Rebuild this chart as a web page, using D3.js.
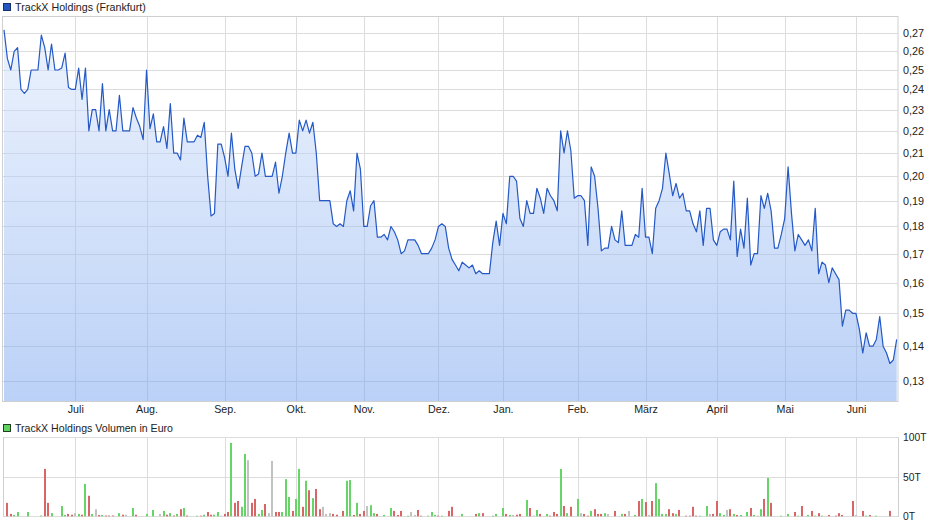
<!DOCTYPE html>
<html><head><meta charset="utf-8">
<script src="https://cdn.jsdelivr.net/npm/d3@7"></script>
<style>body{margin:0;background:#fff;} svg{display:block;font-family:"Liberation Sans",Arial,sans-serif;}</style>
</head><body>
<svg id="c" width="940" height="526"></svg>
<script>
// ---- data ----
const titlePrice = "TrackX Holdings (Frankfurt)";
const titleVolume = "TrackX Holdings Volumen in Euro";
const prices = [
 0.272,0.256,0.25,0.26,0.262,0.24,0.238,0.24,0.25,0.25,
 0.25,0.269,0.262,0.25,0.264,0.25,0.25,0.251,0.259,0.241,
 0.24,0.24,0.251,0.235,0.251,0.22,0.23,0.23,0.22,0.243,
 0.22,0.23,0.22,0.22,0.237,0.22,0.22,0.22,0.231,0.226,
 0.222,0.216,0.25,0.221,0.228,0.215,0.215,0.222,0.212,0.233,
 0.21,0.21,0.207,0.226,0.215,0.215,0.215,0.218,0.217,0.224,
 0.2,0.184,0.185,0.214,0.214,0.208,0.2,0.219,0.203,0.195,
 0.204,0.213,0.213,0.21,0.2,0.201,0.21,0.2,0.2,0.2,
 0.206,0.193,0.2,0.21,0.219,0.21,0.21,0.225,0.22,0.225,
 0.219,0.224,0.21,0.19,0.19,0.19,0.19,0.181,0.18,0.181,
 0.18,0.19,0.194,0.186,0.21,0.203,0.18,0.18,0.188,0.19,
 0.176,0.176,0.177,0.175,0.18,0.178,0.175,0.17,0.171,0.175,
 0.175,0.175,0.173,0.17,0.17,0.17,0.172,0.175,0.18,0.181,
 0.18,0.172,0.168,0.166,0.164,0.167,0.166,0.165,0.166,0.163,
 0.164,0.163,0.163,0.163,0.174,0.182,0.173,0.185,0.181,0.2,
 0.2,0.198,0.183,0.18,0.19,0.185,0.185,0.195,0.191,0.185,
 0.195,0.192,0.19,0.186,0.22,0.21,0.22,0.211,0.191,0.192,
 0.192,0.19,0.173,0.204,0.2,0.187,0.171,0.172,0.172,0.18,
 0.175,0.174,0.186,0.173,0.173,0.173,0.177,0.176,0.195,0.176,
 0.176,0.17,0.187,0.19,0.195,0.21,0.201,0.192,0.197,0.191,
 0.193,0.186,0.186,0.181,0.178,0.186,0.173,0.187,0.187,0.175,
 0.173,0.178,0.179,0.179,0.175,0.198,0.169,0.179,0.172,0.191,
 0.166,0.17,0.17,0.192,0.187,0.193,0.186,0.172,0.172,0.177,
 0.183,0.204,0.185,0.171,0.177,0.175,0.173,0.175,0.171,0.187,
 0.163,0.167,0.166,0.16,0.165,0.163,0.161,0.146,0.151,0.151,
 0.15,0.15,0.145,0.138,0.144,0.14,0.14,0.142,0.149,0.14,
 0.138,0.135,0.136,0.142];
const monthLabels = ["Juli","Aug.","Sep.","Okt.","Nov.","Dez.","Jan.","Feb.","März","April","Mai","Juni"];
const monthStartDay = [21,42,65,86,106,128,147,169,189,210,230,251];
const priceTicks = [0.13,0.14,0.15,0.16,0.17,0.18,0.19,0.20,0.21,0.22,0.23,0.24,0.25,0.26,0.27];
const volumeTicks = [0,50,100];
const volumeDays = [
 1,2,3,4,7,11,12,13,14,17,
 18,19,20,21,22,23,24,25,26,27,
 28,29,30,31,32,34,35,36,38,39,
 42,44,46,47,48,49,50,51,52,53,
 54,57,58,59,60,61,62,63,64,65,
 66,67,68,69,70,71,72,73,74,75,
 76,77,78,79,80,81,82,83,84,85,
 86,87,88,89,90,91,92,93,94,95,
 96,97,98,100,101,102,103,104,105,106,
 107,108,109,110,112,114,115,116,117,119,
 120,121,122,123,125,126,127,128,129,131,
 132,135,139,140,141,144,145,147,148,149,
 150,151,152,154,155,156,157,158,160,161,
 162,163,164,165,166,167,169,170,171,172,
 173,174,175,176,177,178,180,182,183,184,
 186,187,188,189,190,191,192,193,194,195,
 196,197,198,199,201,202,203,204,205,207,
 208,209,210,211,212,213,214,215,216,217,
 219,220,221,222,223,224,225,226,229,231,
 233,234,235,237,238,239,240,241,243,245,
 246,247,250,251,253,254,255,257,261];
const volumeT = [
 17,3,1.7,5.5,5.5,1,60,17,4,13,
 1.7,3,2,4,3,2,41,26,3,9,
 1.7,1.7,1,1,1,4,2,2,10.5,2,
 3,8,3,6.8,2,4,1,3,9,10.5,
 1,0.8,0.8,2,5.5,2,2,5.5,0.8,3,
 5.5,93,17,19.4,12,79,71,17,22,3,
 8,15.6,4,70,5.5,5.5,5.5,47,24.5,6.8,
 22,60,12,45,33,23,34.6,9,12,3,
 4,3,2,6.8,45,46,1.7,17,3,6.8,
 13,14,4,3,1.7,10.5,6.8,1.7,6.8,0.8,
 5.5,1.7,8,0.8,0.8,5.5,1.7,0.8,0.8,6.8,
 12,3,3,4,4,0.8,3,10.5,3,1.7,
 1.7,2,3,20.7,10.5,0.8,8,3,3,0.8,
 5.5,3,60,13,4,12,22,4,3,0.8,
 6.8,9,3,3,4,3,6.8,3,3,6.8,
 1.7,19.4,22,18,1.7,19.4,42,22,3,3,
 9,4,3,8,0.8,0.8,12,0.8,0.8,13,
 3,3,19.4,4,1.7,8,9,3,1.7,1.7,
 5.5,10.5,1.7,0.8,9,22,48.5,17,0.8,3,
 5.5,0.8,13,1.7,6.8,0.8,4,0.8,1.7,0.8,
 4,1.7,19.4,1.7,6.8,0.8,1.7,0.8,6.8];
// u = up, d = down, n = unchanged
const volumeDir = ("dduuuudduu"+"uddnududun"+"dudddudnud"+"uunudududu"+"dududduund"+
 "dudduunddu"+"udnndduuud"+"uudududdnn"+"nddduududd"+"nuuduudddu"+
 "nndduuudud"+"dududuuudu"+"nddudnudud"+"ddududundd"+"udddundudn"+
 "ududnduuuu"+"dduddddduu"+"ndduundudu"+"udunududuu"+"dududududd"+"dddndudud").split("");

// ---- layout ----
const L = 3, R = 898, pTop = 16, pBot = 401, vTop = 437, vBot = 516;
const svg = d3.select("#c");
const x = d3.scaleLinear().domain([0, prices.length - 1]).range([4, 896.7]);
const y = d3.scaleLog().domain([0.1247, 0.28]).range([401.3, 16]);
const yv = d3.scaleLinear().domain([0, 100]).range([516.3, 437.3]);
const de = d3.formatLocale({decimal: ",", thousands: ".", grouping: [3], currency: ["", "€"]});
const fmt = de.format(".2f");
const px = v => Math.round(v) + 0.5;
const gridC = "#dcdcdc", borderC = "#cfcfcf", textC = "#222";

// gradient
const defs = svg.append("defs");
const grad = defs.append("linearGradient").attr("id", "ag")
  .attr("gradientUnits", "userSpaceOnUse").attr("x1", 0).attr("x2", 0).attr("y1", pTop).attr("y2", pBot);
grad.append("stop").attr("offset", 0).attr("stop-color", "rgb(222,233,251)");
grad.append("stop").attr("offset", 1).attr("stop-color", "rgb(119,163,239)");

// ---- price panel ----
const gP = svg.append("g");
gP.selectAll("line.h").data(priceTicks).join("line")
  .attr("x1", L).attr("x2", R).attr("y1", d => px(y(d))).attr("y2", d => px(y(d)))
  .attr("stroke", gridC);
gP.selectAll("line.v").data(monthStartDay).join("line")
  .attr("x1", d => px(x(d))).attr("x2", d => px(x(d))).attr("y1", pTop).attr("y2", pBot)
  .attr("stroke", gridC);

const area = d3.area().x((d, i) => x(i)).y0(pBot).y1(d => y(d));
gP.append("path").datum(prices).attr("d", area).attr("fill", "url(#ag)").attr("fill-opacity", 0.5);
const line = d3.line().x((d, i) => x(i)).y(d => y(d));
gP.append("path").datum(prices).attr("d", line).attr("fill", "none")
  .attr("stroke", "#2459c6").attr("stroke-width", 1.2).attr("stroke-linejoin", "round");

gP.append("rect").attr("x", L - 0.5).attr("y", pTop + 0.5).attr("width", R - L + 0.5).attr("height", pBot - pTop)
  .attr("fill", "none").attr("stroke", borderC);

// price axis labels
const ay = d3.axisRight(y).tickValues(priceTicks).tickFormat(fmt).tickSize(0).tickPadding(5);
const gAy = svg.append("g").attr("transform", `translate(${R},0)`).call(ay);
gAy.select(".domain").remove();
gAy.selectAll("text").attr("font-size", "10.8px").attr("fill", textC).attr("font-family", '"Liberation Sans",Arial,sans-serif');

// month labels
svg.append("g").selectAll("text").data(monthStartDay).join("text")
  .attr("x", d => x(d) + 0.5).attr("y", 413).attr("text-anchor", "middle")
  .attr("font-size", "10.7px").attr("fill", textC).text((d, i) => monthLabels[i]);

// legend price
svg.append("rect").attr("x", 3.5).attr("y", 3.5).attr("width", 7).attr("height", 7)
  .attr("fill", "#2257c2").attr("stroke", "#1a2f66");
svg.append("text").attr("x", 15).attr("y", 10.5).attr("font-size", "10.7px").attr("fill", textC).text(titlePrice);

// ---- volume panel ----
const gV = svg.append("g");
gV.selectAll("line.h").data(volumeTicks).join("line")
  .attr("x1", L).attr("x2", R).attr("y1", d => px(yv(d))).attr("y2", d => px(yv(d)))
  .attr("stroke", gridC);
gV.selectAll("line.v").data(monthStartDay).join("line")
  .attr("x1", d => px(x(d))).attr("x2", d => px(x(d))).attr("y1", vTop).attr("y2", vBot)
  .attr("stroke", gridC);
const dirColor = {u: "#66d466", d: "#d96666", n: "#c2c2c2"};
gV.selectAll("rect.bar").data(volumeDays).join("rect")
  .attr("x", d => Math.round(x(d)) - 1).attr("width", 2)
  .attr("y", (d, i) => yv(volumeT[i])).attr("height", (d, i) => yv(0) - yv(volumeT[i]))
  .attr("fill", (d, i) => dirColor[volumeDir[i]] || "#c2c2c2");
gV.append("line").attr("x1", px(L)).attr("x2", px(L)).attr("y1", vTop).attr("y2", vBot + 1).attr("stroke", borderC);
gV.append("line").attr("x1", px(R)).attr("x2", px(R)).attr("y1", vTop).attr("y2", vBot + 1).attr("stroke", borderC);

const av = d3.axisRight(yv).tickValues(volumeTicks).tickFormat(d => d + "T").tickSize(0).tickPadding(5);
const gAv = svg.append("g").attr("transform", `translate(${R},0)`).call(av);
gAv.select(".domain").remove();
gAv.selectAll("text").attr("font-size", "10.3px").attr("fill", textC).attr("font-family", '"Liberation Sans",Arial,sans-serif');

svg.append("rect").attr("x", 3.5).attr("y", 424.5).attr("width", 7).attr("height", 7)
  .attr("fill", "#5fd35f").attr("stroke", "#1f3f1f");
svg.append("text").attr("x", 15).attr("y", 431.7).attr("font-size", "10.6px").attr("fill", textC).text(titleVolume);
</script>
</body></html>
